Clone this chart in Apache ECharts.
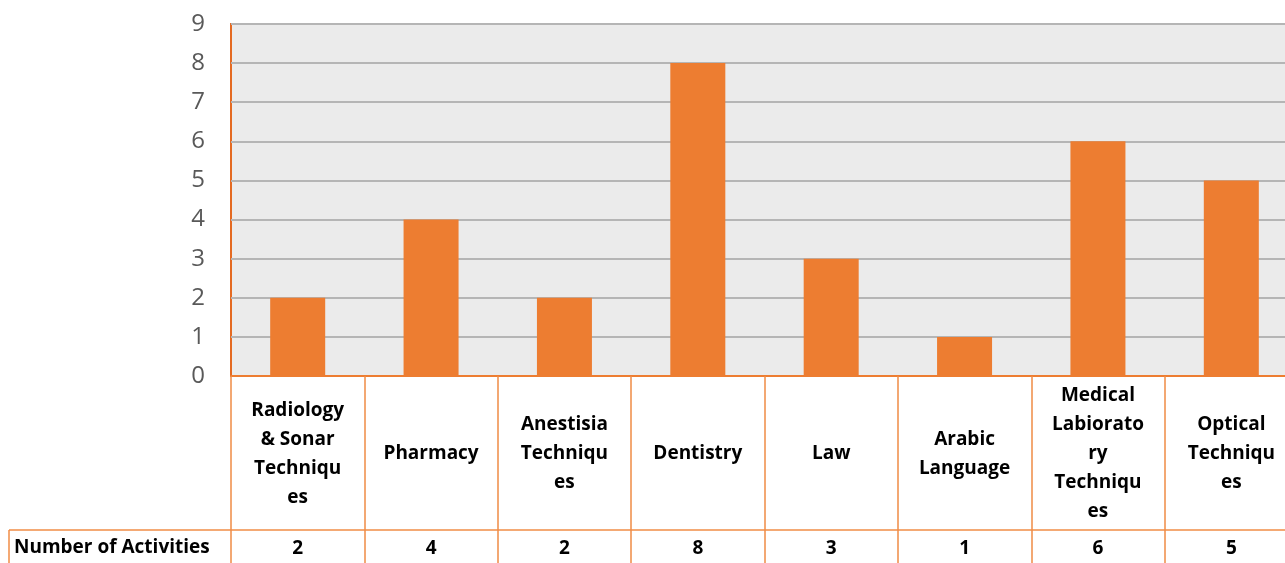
<!DOCTYPE html>
<html><head><meta charset="utf-8">
<script src="https://cdn.jsdelivr.net/npm/echarts@6/dist/echarts.min.js"></script>
<style>html,body{margin:0;padding:0;background:#fff}#c{width:1285px;height:563px}</style>
</head><body><div id="c"></div>
<script>
const categories = ["Radiology & Sonar Techniques","Pharmacy","Anestisia Techniques","Dentistry","Law","Arabic Language","Medical Labioratory Techniques","Optical Techniques"];
const categoryLabels = ["Radiology\n& Sonar\nTechniqu\nes","Pharmacy","Anestisia\nTechniqu\nes","Dentistry","Law","Arabic\nLanguage","Medical\nLabiorato\nry\nTechniqu\nes","Optical\nTechniqu\nes"];
const activities = [2,4,2,8,3,1,6,5];
const rowTitle = "Number of Activities";
const yTicks = [0,1,2,3,4,5,6,7,8,9];

const ORANGE = '#ed7d31';
const FONT = 'Open Sans';
const chart = echarts.init(document.getElementById('c'));
chart.setOption({
  animation:false,
  grid:{left:231,top:24,width:1067,bottom:187,outerBoundsMode:'none',containLabel:false,show:true,backgroundColor:'#ebebeb',borderColor:'#e46a22',borderWidth:2},
  xAxis:[{
    type:'category',data:categories,position:'bottom',
    axisLine:{show:true,lineStyle:{color:ORANGE,width:2}},
    axisTick:{show:true,length:187,alignWithLabel:false,lineStyle:{color:'#f08c46',width:1.5}},
    axisLabel:{interval:0,margin:78,verticalAlign:'middle',align:'center',fontFamily:FONT,fontWeight:'bold',fontSize:19,lineHeight:29,color:'#000',
      formatter:(v,i)=>categoryLabels[i]}
  },{
    type:'category',data:activities.map(String),position:'bottom',
    axisLine:{show:false},axisTick:{show:false},
    axisLabel:{interval:0,margin:173,verticalAlign:'middle',fontFamily:FONT,fontWeight:'bold',fontSize:19,color:'#000'}
  }],
  yAxis:{type:'value',min:0,max:9,interval:1,
    axisLine:{show:false},axisTick:{show:false},
    axisLabel:{margin:26,fontFamily:'Open Sans',fontSize:24,color:'#595959',formatter:v=>yTicks.includes(v)?String(v):''},
    splitLine:{lineStyle:{color:'#b5b5b5',width:2}}
  },
  series:[{type:'bar',data:activities,barWidth:55,itemStyle:{color:ORANGE},xAxisIndex:0}],
  graphic:[
    {type:'line',shape:{x1:9,y1:530,x2:1285,y2:530},style:{stroke:'#f08c46',lineWidth:1.5}},
    {type:'line',shape:{x1:9,y1:530,x2:9,y2:563},style:{stroke:'#f08c46',lineWidth:1.5}},
    {type:'text',left:14,top:538,style:{text:rowTitle,font:'bold 19px "Open Sans"',fill:'#000'}}
  ]
});
</script></body></html>
